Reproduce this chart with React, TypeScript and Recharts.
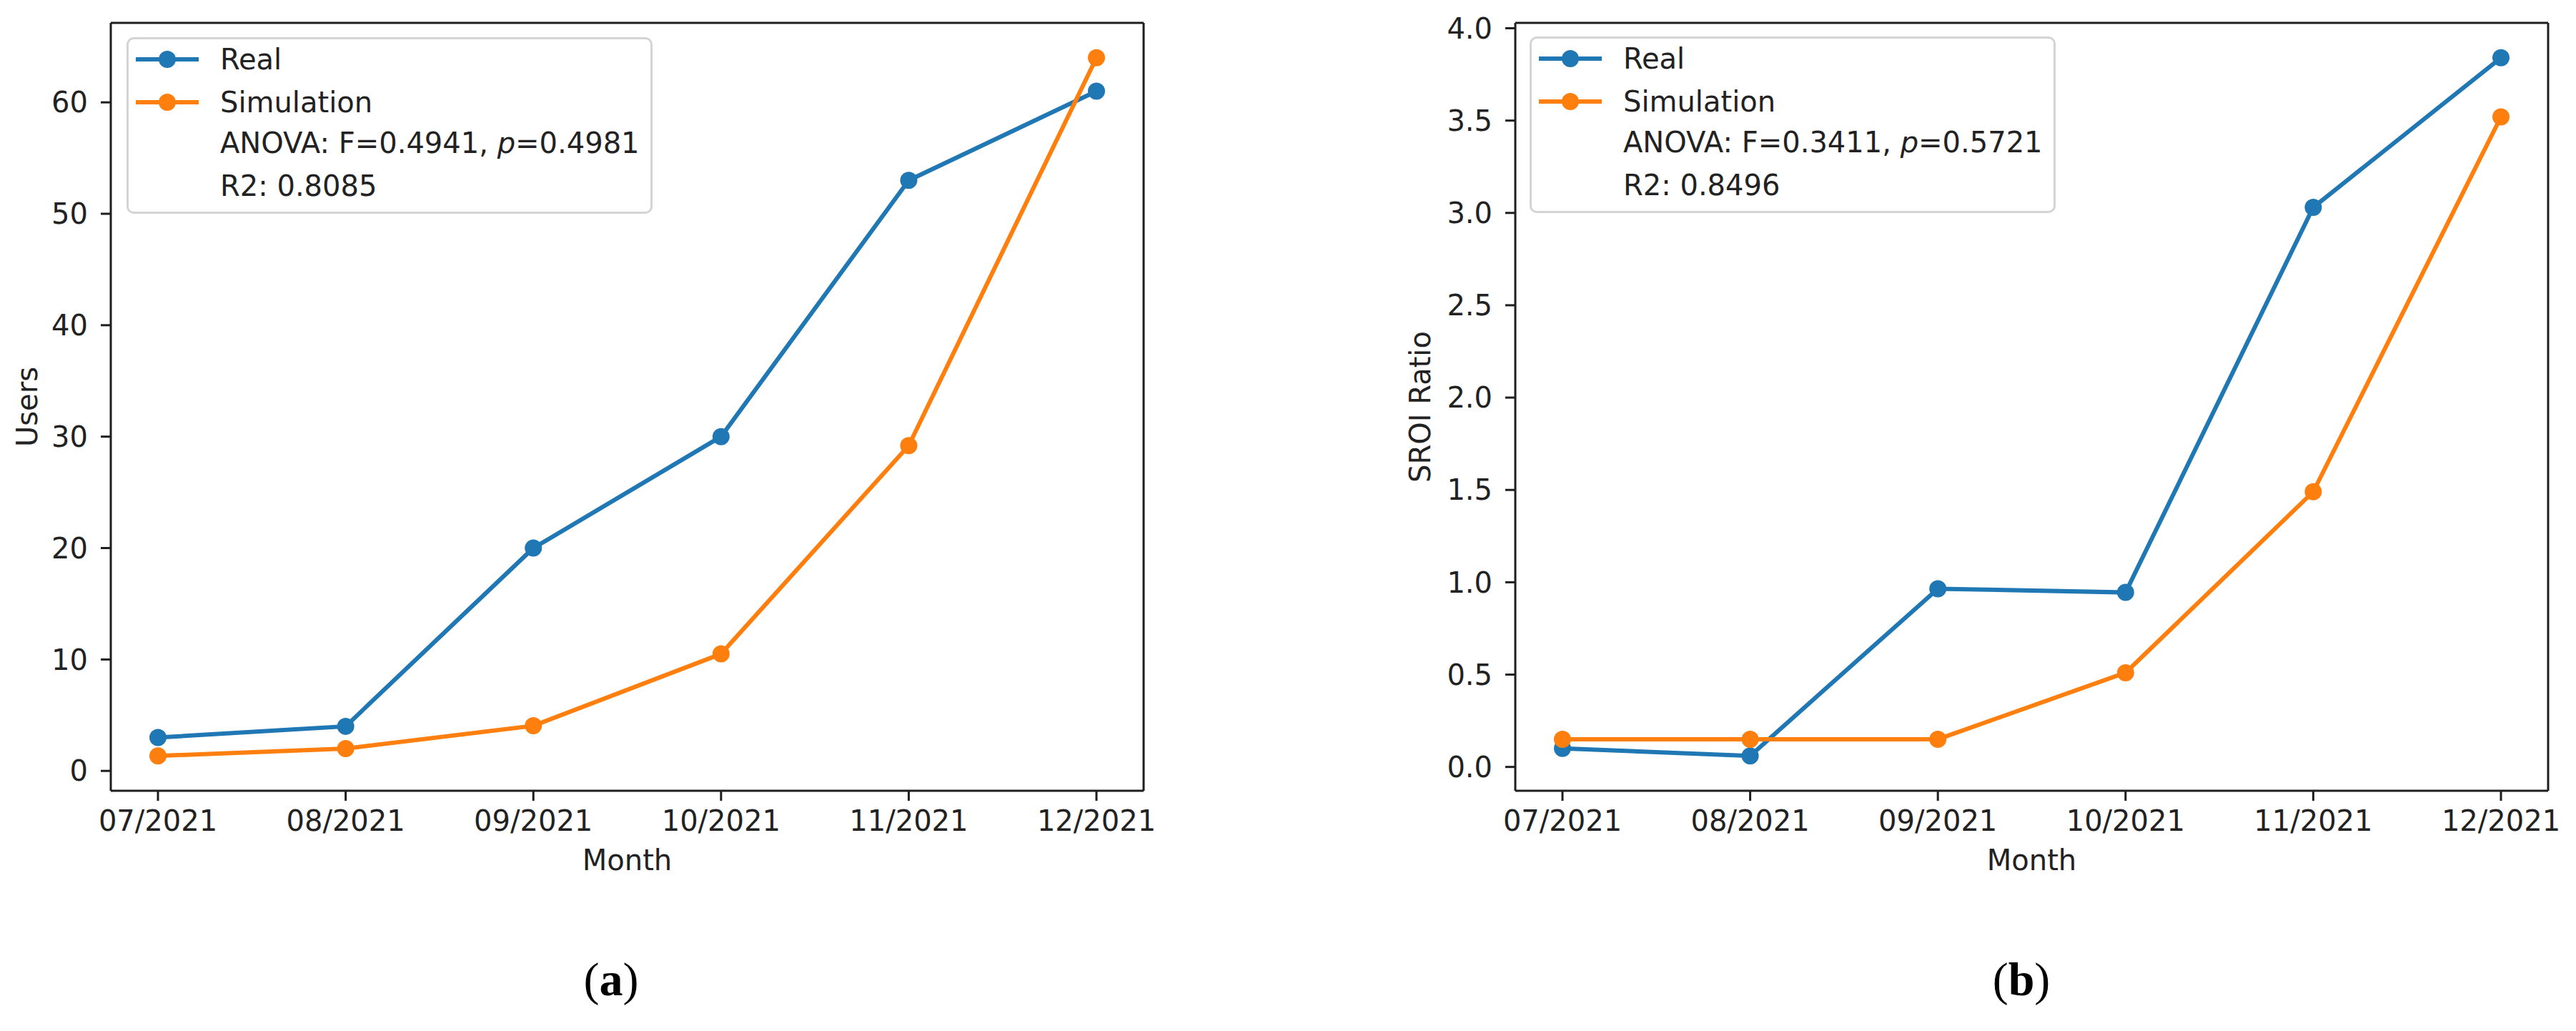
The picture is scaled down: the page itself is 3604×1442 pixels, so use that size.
import React from 'react';
import { LineChart, Line, XAxis, YAxis, Legend, CartesianGrid } from 'recharts';

// ---------- data ----------
const months = ['07/2021', '08/2021', '09/2021', '10/2021', '11/2021', '12/2021'];
const usersReal = [3, 4, 20, 30, 53, 61];
const usersSim = [1.35, 2.0, 4.05, 10.5, 29.2, 64];
const sroiReal = [0.1, 0.06, 0.965, 0.945, 3.03, 3.84];
const sroiSim = [0.15, 0.15, 0.15, 0.51, 1.49, 3.52];
const usersTicks = [0, 10, 20, 30, 40, 50, 60];
const sroiTicks = [0, 0.5, 1, 1.5, 2, 2.5, 3, 3.5, 4];
const seriesNames = ['Real', 'Simulation'];
const statsA = { f: '0.4941', p: '0.4981', r2: '0.8085' };
const statsB = { f: '0.3411', p: '0.5721', r2: '0.8496' };

// ---------- style ----------
const BLUE = '#1f77b4';
const ORANGE = '#ff7f0e';
const FONT = '"DejaVu Sans", sans-serif';
const TXT = '#222222';
const SPINE = '#1e1e1e';
const FS = 40;

const usersData = months.map((m, i) => ({ month: m, real: usersReal[i], sim: usersSim[i] }));
const sroiData = months.map((m, i) => ({ month: m, real: sroiReal[i], sim: sroiSim[i] }));

function marginDomain(a: number[], b: number[]): [number, number] {
  const all = a.concat(b);
  const lo = Math.min(...all);
  const hi = Math.max(...all);
  const m = (hi - lo) * 0.05;
  return [lo - m, hi + m];
}

function LegendBox({ stats, width, height }: { stats: { f: string; p: string; r2: string }; width: number; height: number }) {
  const rowTop = [31, 91, 148, 208];
  const colors = [BLUE, ORANGE];
  const textStyle = (c: number): React.CSSProperties => ({
    position: 'absolute',
    left: 128,
    top: c - 26,
    height: 52,
    lineHeight: '52px',
    whiteSpace: 'nowrap',
  });
  return (
    <div
      style={{
        width,
        height,
        boxSizing: 'border-box',
        border: '3px solid #d4d4d4',
        borderRadius: 10,
        background: 'rgba(255,255,255,0.8)',
        position: 'relative',
        fontFamily: FONT,
        fontSize: FS,
        color: TXT,
      }}
    >
      {seriesNames.map((n, i) => (
        <React.Fragment key={n}>
          <svg style={{ position: 'absolute', left: 10, top: rowTop[i] - 3 - 16 }} width={90} height={32}>
            <line x1={0} y1={16} x2={88} y2={16} stroke={colors[i]} strokeWidth={6} />
            <circle cx={44} cy={16} r={12} fill={colors[i]} />
          </svg>
          <div style={textStyle(rowTop[i] - 3)}>{n}</div>
        </React.Fragment>
      ))}
      <div style={textStyle(rowTop[2] - 3)}>
        ANOVA: F={stats.f}, <span style={{ fontStyle: 'italic' }}>p</span>={stats.p}
      </div>
      <div style={textStyle(rowTop[3] - 3)}>R2: {stats.r2}</div>
    </div>
  );
}

const xTitle = (txt: string) => (props: any) => {
  const vb = props.viewBox || { x: 0, y: 0, width: 0, height: 0 };
  return (
    <text
      x={vb.x + vb.width / 2}
      y={vb.y + 97}
      textAnchor="middle"
      dominantBaseline="central"
      fill={TXT}
      fontSize={FS}
      fontFamily={FONT}
    >
      {txt}
    </text>
  );
};

const yTitle = (txt: string, cx: number) => (props: any) => {
  const vb = props.viewBox || { x: 0, y: 0, width: 0, height: 0 };
  const x = vb.x + cx;
  const y = vb.y + vb.height / 2;
  return (
    <text
      x={x}
      y={y}
      transform={`rotate(-90, ${x}, ${y})`}
      textAnchor="middle"
      dominantBaseline="central"
      fill={TXT}
      fontSize={FS}
      fontFamily={FONT}
    >
      {txt}
    </text>
  );
};

type PanelProps = {
  data: { month: string; real: number; sim: number }[];
  width: number;
  yAxisWidth: number;
  rightMargin: number;
  domain: [number, number];
  ticks: number[];
  fmt: (v: number) => string;
  yLabel: string;
  yLabelX: number;
  stats: { f: string; p: string; r2: string };
  legendLeft: number;
  legendTop: number;
};

function Panel(p: PanelProps) {
  const H = 1442;
  const axisLineStyle = { stroke: SPINE, strokeWidth: 3 };
  return (
    <LineChart
      width={p.width}
      height={H}
      data={p.data}
      margin={{ top: 32, right: p.rightMargin, bottom: 0, left: 0 }}
      style={{ fontFamily: FONT }}
    >
      {/* top and right spines of the matplotlib-style frame */}
      <CartesianGrid
        stroke={SPINE}
        strokeWidth={3}
        fill="none"
        horizontalCoordinatesGenerator={(a: any) => [a.offset.top]}
        verticalCoordinatesGenerator={(a: any) => [a.offset.left + a.offset.width]}
      />
      <XAxis
        dataKey="month"
        height={H - 1106}
        padding={{ left: 66, right: 66 }}
        axisLine={axisLineStyle}
        tickLine={{ stroke: SPINE, strokeWidth: 3 }}
        tickSize={14}
        tickMargin={14}
        tick={{ fill: TXT, fontSize: FS, fontFamily: FONT }}
        interval={0}
        label={{ content: xTitle('Month') }}
      />
      <YAxis
        type="number"
        width={p.yAxisWidth}
        domain={p.domain}
        allowDataOverflow
        ticks={p.ticks}
        tickFormatter={p.fmt}
        axisLine={axisLineStyle}
        tickLine={{ stroke: SPINE, strokeWidth: 3 }}
        tickSize={14}
        tickMargin={18}
        tick={{ fill: TXT, fontSize: FS, fontFamily: FONT }}
        interval={0}
        label={{ content: yTitle(p.yLabel, p.yLabelX) }}
      />
      <Line
        dataKey="real"
        name={seriesNames[0]}
        stroke={BLUE}
        strokeWidth={6}
        dot={{ r: 12, fill: BLUE, stroke: BLUE, strokeWidth: 0 }}
        isAnimationActive={false}
      />
      <Line
        dataKey="sim"
        name={seriesNames[1]}
        stroke={ORANGE}
        strokeWidth={6}
        dot={{ r: 12, fill: ORANGE, stroke: ORANGE, strokeWidth: 0 }}
        isAnimationActive={false}
      />
      <Legend
        layout="horizontal"
        verticalAlign="middle"
        align="center"
        wrapperStyle={{ left: p.legendLeft, top: p.legendTop, width: 736, height: 247 }}
        content={() => <LegendBox stats={p.stats} width={736} height={247} />}
      />
    </LineChart>
  );
}

const captionStyle = (cx: number): React.CSSProperties => ({
  position: 'absolute',
  left: cx - 100,
  top: 1330,
  width: 200,
  height: 80,
  lineHeight: '80px',
  textAlign: 'center',
  fontFamily: '"Liberation Serif", "DejaVu Serif", serif',
  fontSize: 66,
  color: '#000',
});

export default function App() {
  return (
    <div style={{ position: 'absolute', left: 0, top: 0, width: 3604, height: 1442, background: '#fff', overflow: 'hidden' }}>
      <div style={{ position: 'absolute', left: 0, top: 0 }}>
        <Panel
          data={usersData}
          width={1800}
          yAxisWidth={155}
          rightMargin={200}
          domain={marginDomain(usersReal, usersSim)}
          ticks={usersTicks}
          fmt={(v) => String(v)}
          yLabel="Users"
          yLabelX={38}
          stats={statsA}
          legendLeft={177}
          legendTop={52}
        />
      </div>
      <div style={{ position: 'absolute', left: 1800, top: 0 }}>
        <Panel
          data={sroiData}
          width={1804}
          yAxisWidth={320}
          rightMargin={39}
          domain={marginDomain(sroiReal, sroiSim)}
          ticks={sroiTicks}
          fmt={(v) => v.toFixed(1)}
          yLabel="SROI Ratio"
          yLabelX={187}
          stats={statsB}
          legendLeft={340}
          legendTop={51}
        />
      </div>
      <div style={captionStyle(855)}>
        (<b>a</b>)
      </div>
      <div style={captionStyle(2828)}>
        (<b>b</b>)
      </div>
    </div>
  );
}
